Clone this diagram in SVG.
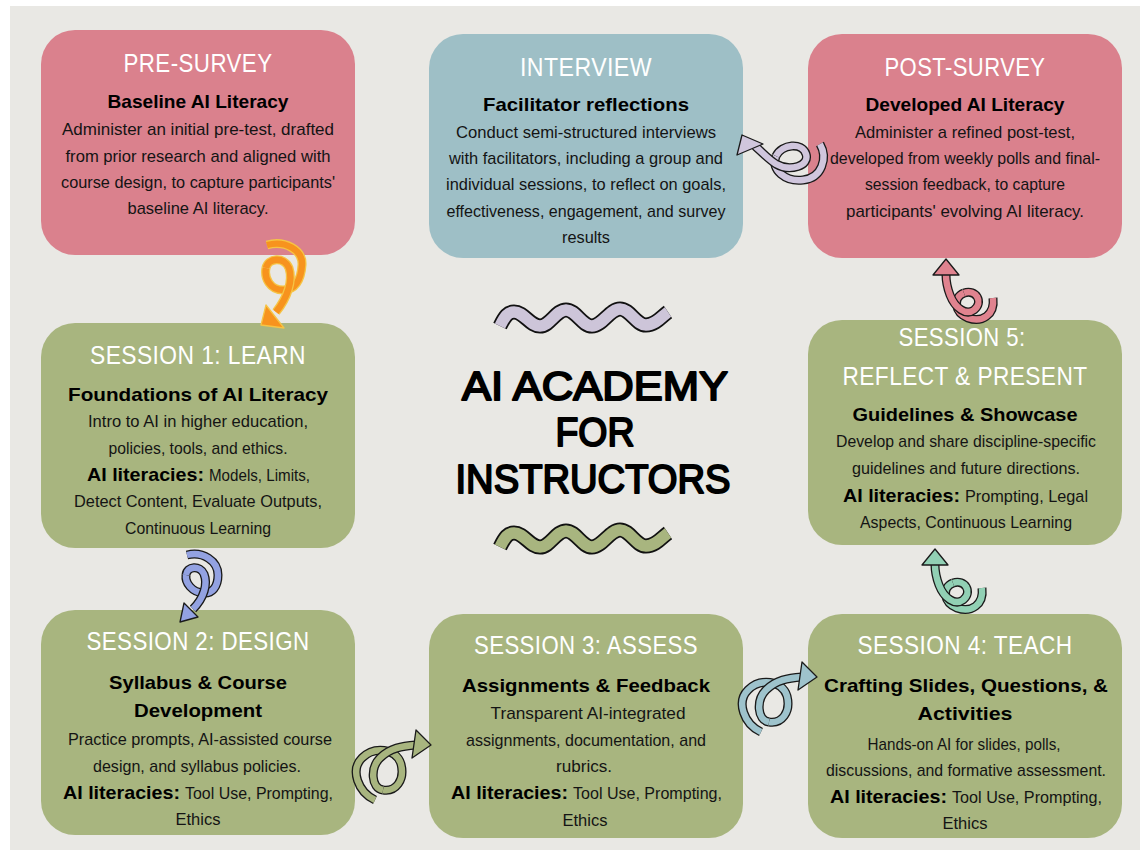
<svg xmlns="http://www.w3.org/2000/svg" width="1140" height="857" viewBox="0 0 1140 857">
<defs>
<style>
text{font-family:"Liberation Sans",Arial,sans-serif}
.ttl{font-size:26px;fill:#ffffff;text-anchor:middle;letter-spacing:0.5px}
.sub{font-size:19px;font-weight:700;fill:#000;text-anchor:middle}
.bd{font-size:17px;fill:#141414;text-anchor:middle}
.lb{font-size:19px;font-weight:700;fill:#000}
.ln{font-size:17px;fill:#141414}
.big{font-size:41px;fill:#000;stroke:#000;stroke-width:2;stroke-linejoin:round;text-anchor:middle}
.pink{fill:#da818d}
.teal{fill:#9ebfc6}
.green{fill:#a8b57f}
.ol{fill:none;stroke:#1a1a1a;stroke-width:9;stroke-linecap:butt;stroke-linejoin:round}
.in{fill:none;stroke-width:6.4;stroke-linecap:butt;stroke-linejoin:round}
.hd{stroke:#1a1a1a;stroke-width:1.3;stroke-linejoin:round}
</style>
</defs>
<rect x="0" y="0" width="1140" height="857" fill="#ffffff"/>
<rect x="10" y="6" width="1130" height="844" fill="#e9e8e4"/>

<g id="decor">
<path d="M500,326 C505,316 508,312 514,312 C524,312 530,326 540,326 C550,326 556,310 566,310 C576,310 582,326 592,326 C602,326 610,309 620,309 C630,309 636,325 646,325 C656,325 662,316 668,312" fill="none" stroke="#111" stroke-width="15"/>
<path d="M500,326 C505,316 508,312 514,312 C524,312 530,326 540,326 C550,326 556,310 566,310 C576,310 582,326 592,326 C602,326 610,309 620,309 C630,309 636,325 646,325 C656,325 662,316 668,312" fill="none" stroke="#cdc5d9" stroke-width="11.5"/>
<g transform="translate(0,221)">
<path d="M500,326 C505,316 508,312 514,312 C524,312 530,326 540,326 C550,326 556,310 566,310 C576,310 582,326 592,326 C602,326 610,309 620,309 C630,309 636,325 646,325 C656,325 662,316 668,312" fill="none" stroke="#111" stroke-width="15"/>
<path d="M500,326 C505,316 508,312 514,312 C524,312 530,326 540,326 C550,326 556,310 566,310 C576,310 582,326 592,326 C602,326 610,309 620,309 C630,309 636,325 646,325 C656,325 662,316 668,312" fill="none" stroke="#a8b57f" stroke-width="11.5"/>
</g>
</g>

<g id="title">
<text class="big" x="595" y="400" textLength="266" lengthAdjust="spacingAndGlyphs">AI ACADEMY</text>
<text class="big" x="595" y="446" textLength="79" lengthAdjust="spacingAndGlyphs">FOR</text>
<text class="big" x="593" y="493" textLength="275" lengthAdjust="spacingAndGlyphs">INSTRUCTORS</text>
</g>

<g id="pre-survey">
<rect class="pink" x="41" y="30" width="314" height="225" rx="34"/>
<text class="ttl" x="198" y="72" textLength="149" lengthAdjust="spacingAndGlyphs">PRE-SURVEY</text>
<text class="sub" x="198" y="108" textLength="181" lengthAdjust="spacingAndGlyphs">Baseline AI Literacy</text>
<text class="bd" x="198" y="135" textLength="272" lengthAdjust="spacingAndGlyphs">Administer an initial pre-test, drafted</text>
<text class="bd" x="198" y="162" textLength="265" lengthAdjust="spacingAndGlyphs">from prior research and aligned with</text>
<text class="bd" x="198" y="188" textLength="274" lengthAdjust="spacingAndGlyphs">course design, to capture participants'</text>
<text class="bd" x="198" y="214" textLength="141" lengthAdjust="spacingAndGlyphs">baseline AI literacy.</text>
</g>

<g id="interview">
<rect class="teal" x="429" y="34" width="314" height="224" rx="34"/>
<text class="ttl" x="586" y="76" textLength="132" lengthAdjust="spacingAndGlyphs">INTERVIEW</text>
<text class="sub" x="586" y="111" textLength="206" lengthAdjust="spacingAndGlyphs">Facilitator reflections</text>
<text class="bd" x="586" y="138" textLength="260" lengthAdjust="spacingAndGlyphs">Conduct semi-structured interviews</text>
<text class="bd" x="586" y="164" textLength="274" lengthAdjust="spacingAndGlyphs">with facilitators, including a group and</text>
<text class="bd" x="586" y="190" textLength="280" lengthAdjust="spacingAndGlyphs">individual sessions, to reflect on goals,</text>
<text class="bd" x="586" y="217" textLength="279" lengthAdjust="spacingAndGlyphs">effectiveness, engagement, and survey</text>
<text class="bd" x="586" y="243" textLength="48" lengthAdjust="spacingAndGlyphs">results</text>
</g>

<g id="post-survey">
<rect class="pink" x="808" y="34" width="314" height="224" rx="34"/>
<text class="ttl" x="965" y="76" textLength="161" lengthAdjust="spacingAndGlyphs">POST-SURVEY</text>
<text class="sub" x="965" y="111" textLength="199" lengthAdjust="spacingAndGlyphs">Developed AI Literacy</text>
<text class="bd" x="965" y="138" textLength="220" lengthAdjust="spacingAndGlyphs">Administer a refined post-test,</text>
<text class="bd" x="965" y="164" textLength="270" lengthAdjust="spacingAndGlyphs">developed from weekly polls and final-</text>
<text class="bd" x="965" y="190" textLength="200" lengthAdjust="spacingAndGlyphs">session feedback, to capture</text>
<text class="bd" x="965" y="217" textLength="238" lengthAdjust="spacingAndGlyphs">participants' evolving AI literacy.</text>
</g>

<g id="session1">
<rect class="green" x="41" y="323" width="314" height="225" rx="34"/>
<text class="ttl" x="198" y="364" textLength="216" lengthAdjust="spacingAndGlyphs">SESSION 1: LEARN</text>
<text class="sub" x="198" y="401" textLength="260" lengthAdjust="spacingAndGlyphs">Foundations of AI Literacy</text>
<text class="bd" x="198" y="427" textLength="220" lengthAdjust="spacingAndGlyphs">Intro to AI in higher education,</text>
<text class="bd" x="198" y="454" textLength="179" lengthAdjust="spacingAndGlyphs">policies, tools, and ethics.</text>
<text class="lb" x="87" y="481" textLength="117" lengthAdjust="spacingAndGlyphs">AI literacies:</text>
<text class="ln" x="209" y="481" textLength="101" lengthAdjust="spacingAndGlyphs">Models, Limits,</text>
<text class="bd" x="198" y="507" textLength="248" lengthAdjust="spacingAndGlyphs">Detect Content, Evaluate Outputs,</text>
<text class="bd" x="198" y="534" textLength="146" lengthAdjust="spacingAndGlyphs">Continuous Learning</text>
</g>

<g id="session5">
<rect class="green" x="808" y="320" width="314" height="225" rx="34"/>
<text class="ttl" x="962" y="346" textLength="127" lengthAdjust="spacingAndGlyphs">SESSION 5:</text>
<text class="ttl" x="965" y="385" textLength="245" lengthAdjust="spacingAndGlyphs">REFLECT &amp; PRESENT</text>
<text class="sub" x="965" y="421" textLength="225" lengthAdjust="spacingAndGlyphs">Guidelines &amp; Showcase</text>
<text class="bd" x="966" y="447" textLength="260" lengthAdjust="spacingAndGlyphs">Develop and share discipline-specific</text>
<text class="bd" x="966" y="474" textLength="228" lengthAdjust="spacingAndGlyphs">guidelines and future directions.</text>
<text class="lb" x="843" y="502" textLength="117" lengthAdjust="spacingAndGlyphs">AI literacies:</text>
<text class="ln" x="965" y="502" textLength="123" lengthAdjust="spacingAndGlyphs">Prompting, Legal</text>
<text class="bd" x="966" y="528" textLength="212" lengthAdjust="spacingAndGlyphs">Aspects, Continuous Learning</text>
</g>

<g id="session2">
<rect class="green" x="41" y="610" width="314" height="225" rx="34"/>
<text class="ttl" x="198" y="650" textLength="223" lengthAdjust="spacingAndGlyphs">SESSION 2: DESIGN</text>
<text class="sub" x="198" y="689" textLength="178" lengthAdjust="spacingAndGlyphs">Syllabus &amp; Course</text>
<text class="sub" x="198" y="717" textLength="128" lengthAdjust="spacingAndGlyphs">Development</text>
<text class="bd" x="200" y="745" textLength="264" lengthAdjust="spacingAndGlyphs">Practice prompts, AI-assisted course</text>
<text class="bd" x="197" y="772" textLength="208" lengthAdjust="spacingAndGlyphs">design, and syllabus policies.</text>
<text class="lb" x="63" y="799" textLength="117" lengthAdjust="spacingAndGlyphs">AI literacies:</text>
<text class="ln" x="185" y="799" textLength="148" lengthAdjust="spacingAndGlyphs">Tool Use, Prompting,</text>
<text class="bd" x="198" y="825" textLength="45" lengthAdjust="spacingAndGlyphs">Ethics</text>
</g>

<g id="session3">
<rect class="green" x="429" y="614" width="314" height="224" rx="34"/>
<text class="ttl" x="586" y="654" textLength="224" lengthAdjust="spacingAndGlyphs">SESSION 3: ASSESS</text>
<text class="sub" x="586" y="692" textLength="248" lengthAdjust="spacingAndGlyphs">Assignments &amp; Feedback</text>
<text class="bd" x="588" y="719" textLength="195" lengthAdjust="spacingAndGlyphs">Transparent AI-integrated</text>
<text class="bd" x="586" y="746" textLength="240" lengthAdjust="spacingAndGlyphs">assignments, documentation, and</text>
<text class="bd" x="584" y="772" textLength="56" lengthAdjust="spacingAndGlyphs">rubrics.</text>
<text class="lb" x="451" y="799" textLength="117" lengthAdjust="spacingAndGlyphs">AI literacies:</text>
<text class="ln" x="573" y="799" textLength="149" lengthAdjust="spacingAndGlyphs">Tool Use, Prompting,</text>
<text class="bd" x="585" y="826" textLength="45" lengthAdjust="spacingAndGlyphs">Ethics</text>
</g>

<g id="session4">
<rect class="green" x="808" y="614" width="314" height="224" rx="34"/>
<text class="ttl" x="965" y="654" textLength="215" lengthAdjust="spacingAndGlyphs">SESSION 4: TEACH</text>
<text class="sub" x="966" y="692" textLength="284" lengthAdjust="spacingAndGlyphs">Crafting Slides, Questions, &amp;</text>
<text class="sub" x="965" y="720" textLength="95" lengthAdjust="spacingAndGlyphs">Activities</text>
<text class="bd" x="964" y="750" textLength="193" lengthAdjust="spacingAndGlyphs">Hands-on AI for slides, polls,</text>
<text class="bd" x="966" y="776" textLength="280" lengthAdjust="spacingAndGlyphs">discussions, and formative assessment.</text>
<text class="lb" x="830" y="803" textLength="117" lengthAdjust="spacingAndGlyphs">AI literacies:</text>
<text class="ln" x="952" y="803" textLength="150" lengthAdjust="spacingAndGlyphs">Tool Use, Prompting,</text>
<text class="bd" x="965" y="829" textLength="45" lengthAdjust="spacingAndGlyphs">Ethics</text>
</g>

<g id="connectors">
<g id="c-pre-s1">
<path d="M267,245 C285,240 303,250 302,265 C301,280 295,290 283,290 C270,290 264,278 266,268" fill="none" stroke="#f6c445" stroke-width="9"/>
<path d="M267,245 C285,240 303,250 302,265 C301,280 295,290 283,290 C270,290 264,278 266,268" class="in" stroke="#f7931e"/>
<path d="M266,268 C268,258 284,256 289,268 C293,280 288,297 276,312" fill="none" stroke="#f6c445" stroke-width="9"/>
<path d="M266,268 C268,258 284,256 289,268 C293,280 288,297 276,312" class="in" stroke="#f7931e"/>
<polygon points="261,325 266,305 284,328" fill="#f7931e" stroke="#f6c445" stroke-width="1.3" stroke-linejoin="round"/>
</g>
<g id="c-s1-s2">
<path d="M187,555 C203,551 218,561 218,575 C218,587 212,594 203,593 C192,592 185,583 186,575" class="ol"/>
<path d="M187,555 C203,551 218,561 218,575 C218,587 212,594 203,593 C192,592 185,583 186,575" class="in" stroke="#93a2e2"/>
<path d="M186,575 C187,566 200,565 204,574 C208,584 204,598 193,609" class="ol"/>
<path d="M186,575 C187,566 200,565 204,574 C208,584 204,598 193,609" class="in" stroke="#93a2e2"/>
<polygon points="180,622 184,603 198,617" fill="#93a2e2" class="hd"/>
</g>
<g id="c-s2-s3">
<path d="M375,800 C358,792 350,770 362,758 C374,746 396,748 401,764 C405,780 396,792 383,790" class="ol"/>
<path d="M375,800 C358,792 350,770 362,758 C374,746 396,748 401,764 C405,780 396,792 383,790" class="in" stroke="#a8b57f"/>
<path d="M383,790 C371,788 370,768 380,758 C390,748 402,746 416,745" class="ol"/>
<path d="M383,790 C371,788 370,768 380,758 C390,748 402,746 416,745" class="in" stroke="#a8b57f"/>
<polygon points="431,745 416,730 412,758" fill="#a8b57f" class="hd"/>
</g>
<g id="c-s3-s4" transform="translate(386,-68)">
<path d="M375,800 C358,792 350,770 362,758 C374,746 396,748 401,764 C405,780 396,792 383,790" class="ol"/>
<path d="M375,800 C358,792 350,770 362,758 C374,746 396,748 401,764 C405,780 396,792 383,790" class="in" stroke="#9ec3cc"/>
<path d="M383,790 C371,788 370,768 380,758 C390,748 402,746 416,745" class="ol"/>
<path d="M383,790 C371,788 370,768 380,758 C390,748 402,746 416,745" class="in" stroke="#9ec3cc"/>
<polygon points="431,745 416,730 412,758" fill="#9ec3cc" class="hd"/>
</g>
<g id="c-s5-post">
<path d="M993,298 C995,315 982,323 968,318 C955,313 952,298 964,293" class="ol"/>
<path d="M993,298 C995,315 982,323 968,318 C955,313 952,298 964,293" class="in" stroke="#e0838f"/>
<path d="M964,293 C976,289 984,302 974,310 C966,316 955,308 950,295 C947,287 946,282 946,275" class="ol"/>
<path d="M964,293 C976,289 984,302 974,310 C966,316 955,308 950,295 C947,287 946,282 946,275" class="in" stroke="#e0838f"/>
<polygon points="946,259 933,275 959,275" fill="#e0838f" class="hd"/>
</g>
<g id="c-s4-s5" transform="translate(-11,290)">
<path d="M993,298 C995,315 982,323 968,318 C955,313 952,298 964,293" class="ol"/>
<path d="M993,298 C995,315 982,323 968,318 C955,313 952,298 964,293" class="in" stroke="#91d0b4"/>
<path d="M964,293 C976,289 984,302 974,310 C966,316 955,308 950,295 C947,287 946,282 946,275" class="ol"/>
<path d="M964,293 C976,289 984,302 974,310 C966,316 955,308 950,295 C947,287 946,282 946,275" class="in" stroke="#91d0b4"/>
<polygon points="946,259 933,275 959,275" fill="#91d0b4" class="hd"/>
</g>
<g id="c-post-int">
<path d="M820,144 C828,158 822,178 803,180 C786,182 770,170 776,156" class="ol"/>
<path d="M820,144 C828,158 822,178 803,180 C786,182 770,170 776,156" class="in" stroke="#d0c6dd"/>
<path d="M776,156 C782,144 802,142 806,154 C810,166 790,172 776,164 C768,159 762,152 755,146" class="ol"/>
<path d="M776,156 C782,144 802,142 806,154 C810,166 790,172 776,164 C768,159 762,152 755,146" class="in" stroke="#d0c6dd"/>
<polygon points="737,155 742,135 763,144" fill="#d0c6dd" class="hd"/>
</g>
</g>
</svg>
